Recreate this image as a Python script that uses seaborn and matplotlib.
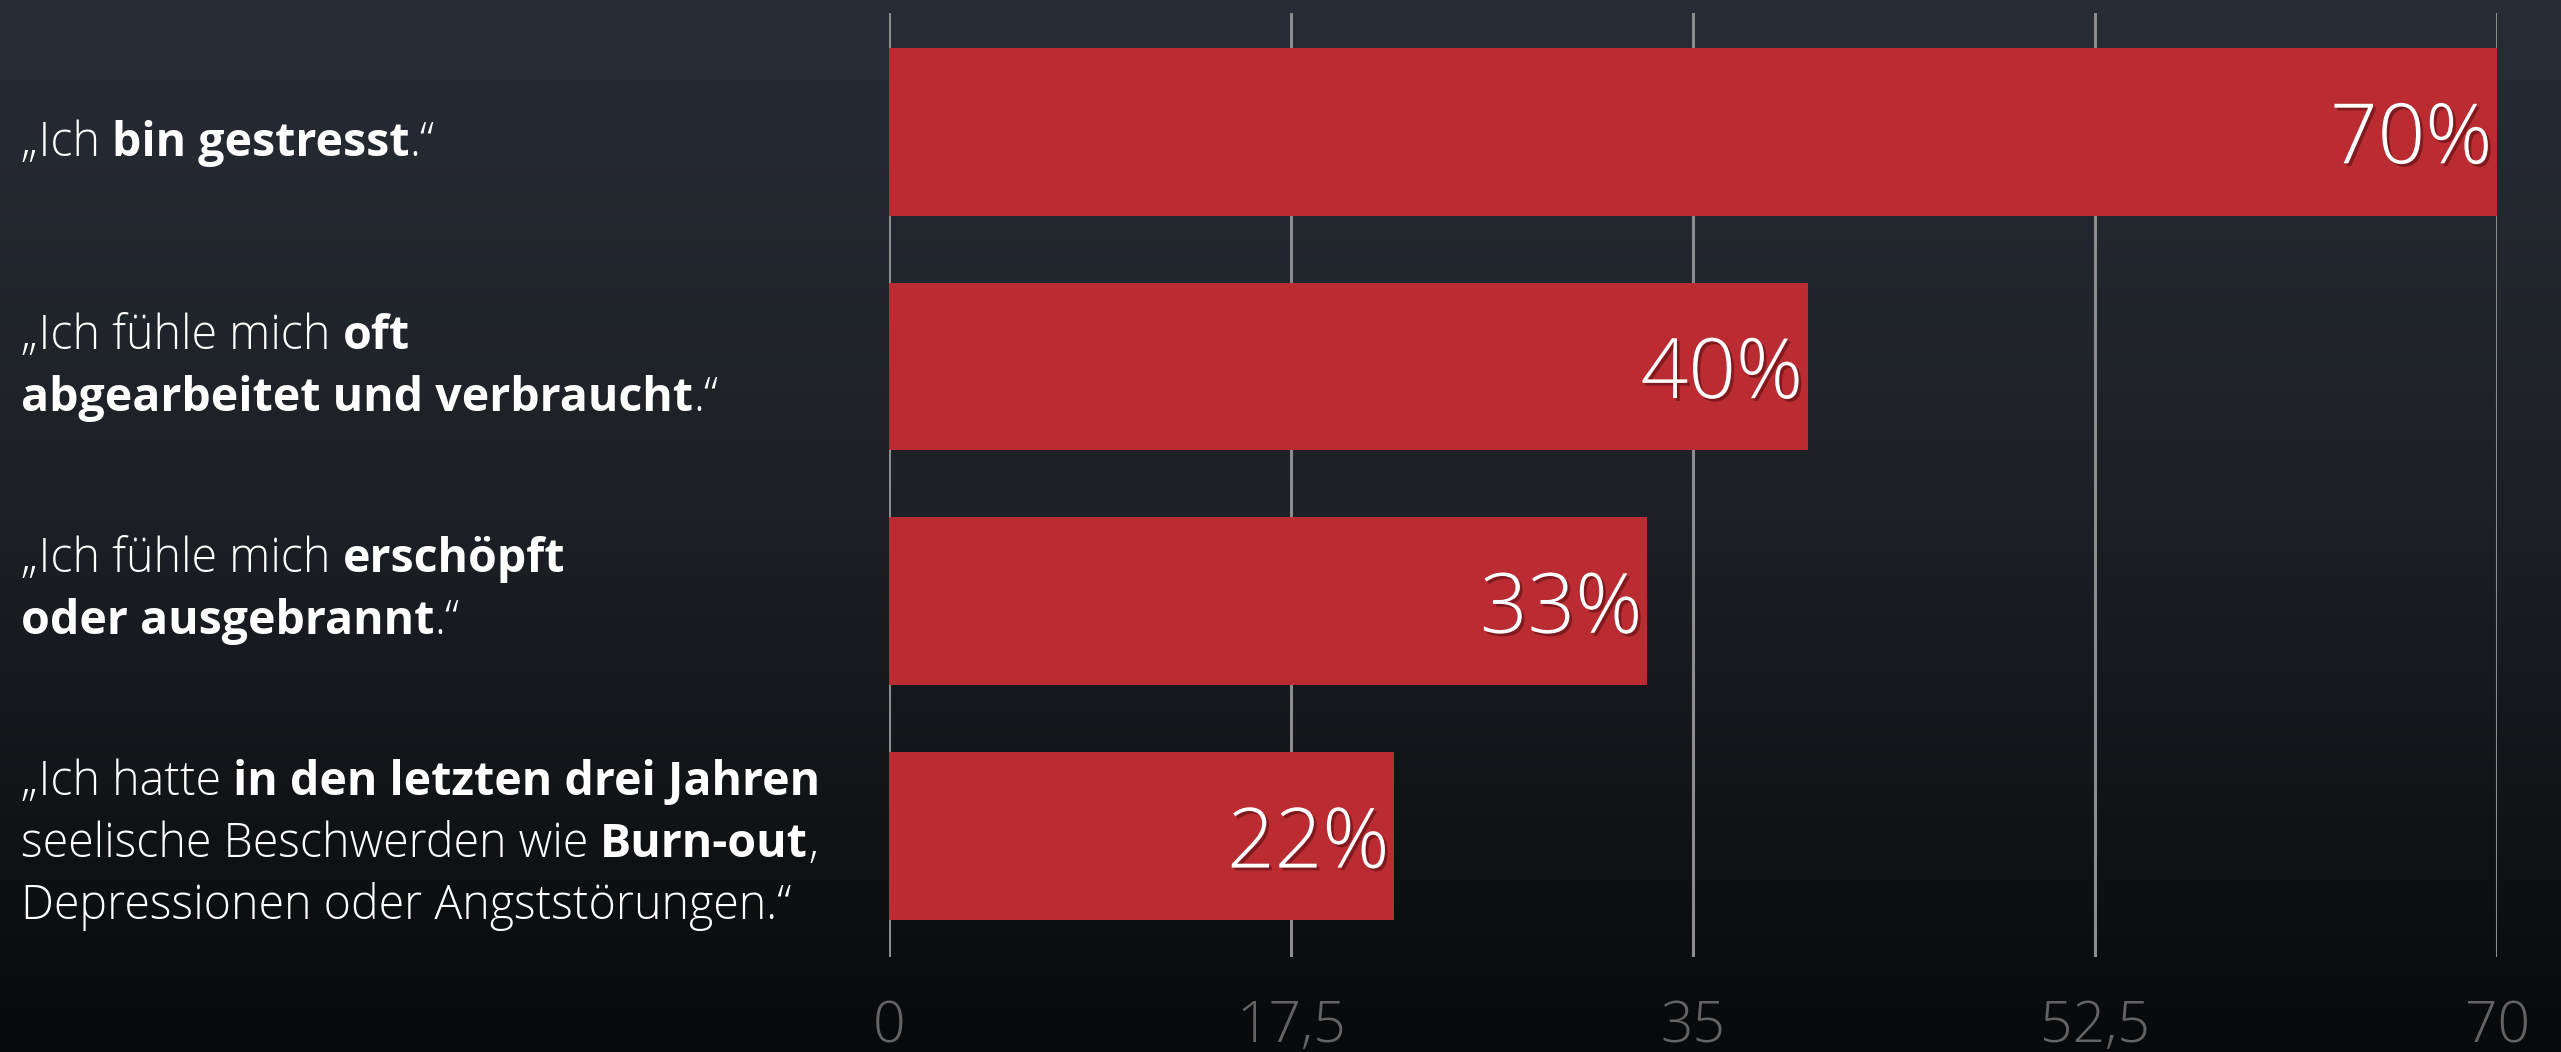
import numpy as np
import matplotlib
matplotlib.use("Agg")
import matplotlib.pyplot as plt
import matplotlib.patheffects as pe
from matplotlib.colors import LinearSegmentedColormap
import seaborn as sns
import pandas as pd

# ---- data ----
categories = [
    "„Ich bin gestresst.“",
    "„Ich fühle mich oft abgearbeitet und verbraucht.“",
    "„Ich fühle mich erschöpft oder ausgebrannt.“",
    "„Ich hatte in den letzten drei Jahren seelische Beschwerden wie Burn-out, Depressionen oder Angststörungen.“",
]
values = [70, 40, 33, 22]
tick_values = [0, 17.5, 35, 52.5, 70]
tick_labels = ["0", "17,5", "35", "52,5", "70"]
# label lines as (text, bold) segments
label_lines = [
    [[("„Ich ", False), ("bin gestresst", True), (".“", False)]],
    [[("„Ich fühle mich ", False), ("oft", True)],
     [("abgearbeitet und verbraucht", True), (".“", False)]],
    [[("„Ich fühle mich ", False), ("erschöpft", True)],
     [("oder ausgebrannt", True), (".“", False)]],
    [[("„Ich hatte ", False), ("in den letzten drei Jahren", True)],
     [("seelische Beschwerden wie ", False), ("Burn-out", True), (",", False)],
     [("Depressionen oder Angststörungen.“", False)]],
]

BAR = "#BA2C32"
FAMILY = ["Open Sans", "Lato", "DejaVu Sans"]
LIGHT = "light"

sns.set_theme(style="dark")
plt.rcParams["font.family"] = FAMILY

W, H = 2561, 1052
fig = plt.figure(figsize=(W / 100, H / 100), dpi=100)

# background gradient
bg = fig.add_axes([0, 0, 1, 1], zorder=-10)
cmap = LinearSegmentedColormap.from_list("bg", ["#282c35", "#1c1f25", "#08090b"])
grad = np.linspace(0, 1, 256).reshape(-1, 1)
bg.imshow(grad, aspect="auto", cmap=cmap, extent=[0, 1, 0, 1])
bg.set_axis_off()

top_px, bot_px = 13, 957
ax = fig.add_axes([889 / W, 1 - bot_px / H, (2497 - 889) / W, (bot_px - top_px) / H])
ax.set_facecolor("none")

df = pd.DataFrame({"cat": categories, "val": values})
sns.barplot(data=df, x="val", y="cat", orient="h", color=BAR, saturation=1,
            width=0.715, ax=ax, zorder=3, linewidth=0, edgecolor="none")

ax.set_xlim(0, 70)
ax.set_ylim(3.515, -0.506)
ax.set_xticks(tick_values)
ax.set_xticklabels(tick_labels, fontsize=41, color="#636363", fontweight=LIGHT)
ax.tick_params(axis="x", length=0, pad=30)
ax.set_yticks([])
ax.set_xlabel("")
ax.set_ylabel("")
ax.grid(False)
for x in tick_values:
    ax.axvline(x, color="#8c8c8c", lw=2.2, zorder=1)
for s in ax.spines.values():
    s.set_visible(False)

# value labels
shadow = [pe.SimplePatchShadow(offset=(2, -2), shadow_rgbFace="#5a0f12", alpha=0.6), pe.Normal()]
for i, v in enumerate(values):
    ax.text(v - 0.2, i, f"{v}%", ha="right", va="center_baseline", color="white",
            fontsize=60, fontweight=LIGHT, zorder=5, path_effects=shadow)

# left labels with mixed weights
fig.canvas.draw()
renderer = fig.canvas.get_renderer()
line_h = 62  # px
fs = 33.5
x0 = 21
shift = [-24, -13, -2, -21]
centers_px = [ax.transData.transform((0, i))[1] for i in range(len(values))]
for ci, lines in enumerate(label_lines):
    n = len(lines)
    yc = centers_px[ci]
    for li, segs in enumerate(lines):
        ybase = yc + ((n - 1) / 2 - li) * line_h + shift[ci]
        x = x0
        for txt, bold in segs:
            t = fig.text(x / W, ybase / H, txt, fontsize=fs, color="white",
                         fontweight="bold" if bold else LIGHT,
                         va="baseline", ha="left")
            bb = t.get_window_extent(renderer)
            x = bb.x1

fig.savefig("out.png", dpi=100)
